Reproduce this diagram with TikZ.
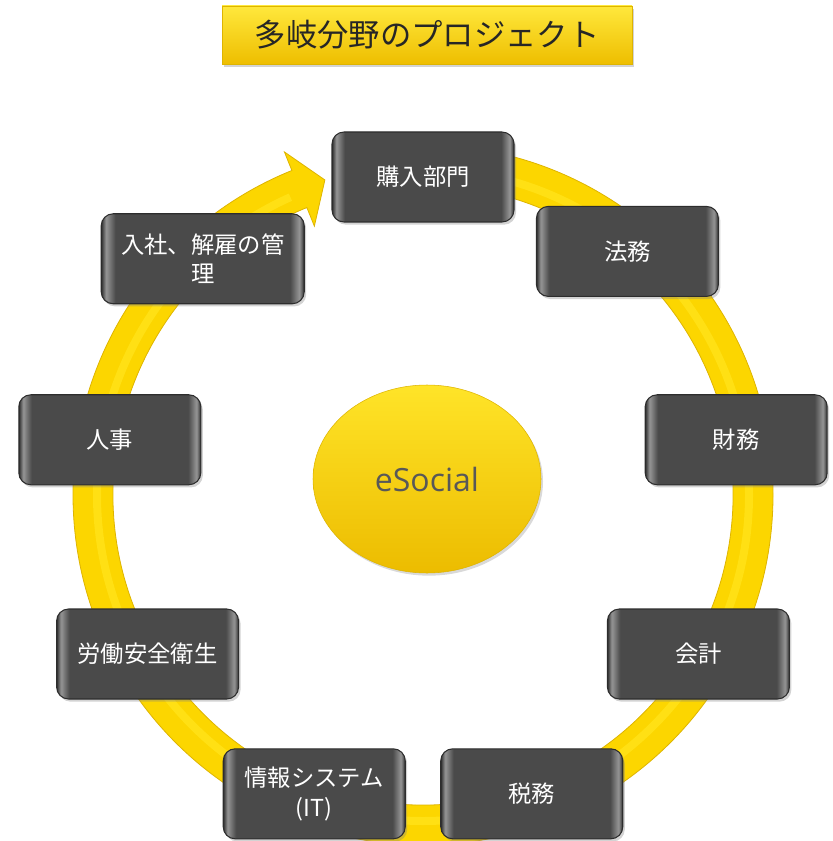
\documentclass[tikz,border=0pt]{standalone}
\usepackage{fontspec}
\newfontfamily\jpfont{Noto Sans CJK JP}
\newfontfamily\esfont{Open Sans}
\usetikzlibrary{positioning,shapes.geometric,shadows}
\definecolor{ringyellow}{RGB}{252,214,0}
\definecolor{ringedge}{RGB}{222,180,0}
\definecolor{ringlight}{RGB}{255,224,20}
\definecolor{deptfill}{RGB}{74,74,74}
\definecolor{deptedge}{RGB}{45,45,45}
\definecolor{deptlight}{RGB}{150,150,150}
\definecolor{hubtop}{RGB}{255,228,40}
\definecolor{hubbottom}{RGB}{236,188,0}
\definecolor{hubtext}{RGB}{88,88,88}
\definecolor{titletop}{RGB}{255,232,60}
\definecolor{titlebottom}{RGB}{238,190,0}
\pgfdeclarehorizontalshading{deptshade}{100bp}{color(0bp)=(deptedge); color(25bp)=(deptedge);
  color(26.2bp)=(deptlight); color(28.5bp)=(deptfill); color(71.5bp)=(deptfill);
  color(73.8bp)=(deptlight); color(75bp)=(deptedge); color(100bp)=(deptedge)}
\def\rin{310}
\def\rout{350}
\def\rdept{318}
\tikzstyle{dept}=[draw=deptedge,line width=0.8pt,shading=deptshade,rounded corners=9pt,
  minimum width=136.5pt,minimum height=67.5pt,align=center,text=white,
  font=\jpfont\fontsize{17.5}{22}\selectfont,
  drop shadow={shadow xshift=1.5pt,shadow yshift=-2pt,opacity=0.35}]
\newcommand{\newDept}[4]{\node[dept,#4](#1) at ([shift={(#3)}]ring){#2};}

\begin{document}
\begin{tikzpicture}[x=0.75pt,y=0.75pt]
  \useasboundingbox (0,0) rectangle (832,-841);
  \coordinate (ring) at (423,-495);
  % ring with arrow head
  \fill[ringyellow,draw=ringedge,line width=0.6pt]
    ([shift={(90:\rout)}]ring) arc[start angle=90,end angle=-248,radius=\rout]
    -- ([shift={(-248:370)}]ring) -- ([shift={(-252.7:330)}]ring)
    -- ([shift={(-248:290)}]ring) -- ([shift={(-248:\rin)}]ring)
    arc[start angle=-248,end angle=90,radius=\rin] -- cycle;
  \draw[ringlight,line width=6pt] ([shift={(90:326)}]ring)
    arc[start angle=90,end angle=-246,radius=326];
  % hub
  \node[ellipse,draw=ringedge,top color=hubtop,bottom color=hubbottom,
    minimum width=171pt,minimum height=141pt,text=hubtext,
    font=\esfont\fontsize{24}{28}\selectfont,
    drop shadow={shadow xshift=1.5pt,shadow yshift=-2pt,opacity=0.3}]
    (hub) at (427,-479) {eSocial};
  % departments
  \newDept{buy}{購入部門}{90:\rdept}{}
  \newDept{legal}{法務}{50:\rdept}{}
  \newDept{finance}{財務}{10:\rdept}{}
  \newDept{account}{会計}{-30:\rdept}{}
  \newDept{tax}{税務}{-70:\rdept}{}
  \newDept{it}{情報システム\\(IT)}{-110:\rdept}{}
  \newDept{safety}{労働安全衛生}{-150:\rdept}{}
  \newDept{hr}{人事}{170:\rdept}{}
  \newDept{hire}{入社、解雇の管\\理}{133:323}{minimum width=152.25pt}
  % title
  \node[draw=ringedge,top color=titletop,bottom color=titlebottom,
    minimum width=307.5pt,minimum height=43.5pt,text=black!85,
    font=\jpfont\fontsize{23.5}{28}\selectfont,
    drop shadow={shadow xshift=1.5pt,shadow yshift=-2pt,opacity=0.35}]
    (title) at (427,-35) {多岐分野のプロジェクト};
\end{tikzpicture}
\end{document}
